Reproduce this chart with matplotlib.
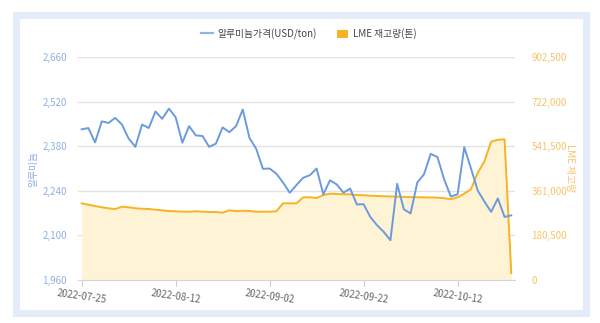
import matplotlib
matplotlib.use("Agg")
import matplotlib.pyplot as plt
from matplotlib.patches import Rectangle, Patch
from matplotlib.lines import Line2D
from matplotlib.ticker import FuncFormatter

plt.rcParams['font.family'] = ['Noto Sans CJK KR', 'DejaVu Sans']

# aluminium price (USD/ton), one value per trading day
price = [2433, 2437, 2392, 2458, 2453, 2469, 2448, 2404, 2378, 2448,
         2437, 2489, 2466, 2498, 2471, 2391, 2443, 2414, 2412, 2378,
         2388, 2439, 2424, 2443, 2495, 2406, 2372, 2309, 2310, 2294,
         2266, 2234, 2258, 2281, 2289, 2310, 2229, 2273, 2260, 2234,
         2247, 2197, 2198, 2158, 2132, 2111, 2085, 2262, 2182, 2169,
         2266, 2292, 2356, 2346, 2276, 2222, 2229, 2377, 2310, 2241,
         2206, 2174, 2216, 2158, 2163]

# LME stock (ton)
stock = [310400, 304700, 299500, 294200, 290200, 287300, 296700, 294200, 290200, 288600,
         287300, 284600, 282000, 279200, 278000, 276500, 276500, 278000, 276500, 275200,
         275200, 272400, 282000, 279200, 280500, 279200, 276500, 276500, 276500, 278000,
         310400, 310400, 310400, 334600, 334600, 331900, 344000, 349300, 348000, 346800,
         346800, 344000, 343000, 341200, 340000, 339000, 338000, 337500, 336500, 335500,
         335000, 334500, 334000, 333500, 331000, 327000, 334600, 349300, 367100, 434000,
         480000, 559700, 567800, 569400, 28000]

tick_labels = ['2022-07-25', '2022-08-12', '2022-09-02', '2022-09-22', '2022-10-12']
tick_every = 14

left_ticks = [1960, 2100, 2240, 2380, 2520, 2660]
right_ticks = [0, 180500, 361000, 541500, 722000, 902500]

blue = '#6b9bdd'
orange = '#f6b322'
fill_col = '#fff3d6'

fig = plt.figure(figsize=(6.0, 3.23), dpi=100)
fig.patch.set_facecolor('white')

W, H = 600, 323
fig.add_artist(Rectangle((13 / W, 1 - 317 / H), 577 / W, 305 / H, transform=fig.transFigure,
                         facecolor='#e3ecf8', edgecolor='none', zorder=-20))
fig.add_artist(Rectangle((20 / W, 1 - 310 / H), 563 / W, 291 / H, transform=fig.transFigure,
                         facecolor='white', edgecolor='none', zorder=-19))

ax2 = fig.add_axes([0.1305, 0.1331, 0.7272, 0.6904])
ax = ax2.twinx()
ax.yaxis.tick_left()
ax.yaxis.set_label_position('left')
ax2.yaxis.tick_right()
ax2.yaxis.set_label_position('right')

x = list(range(len(price)))

# stock area (right axis), drawn under the price line
ax2.fill_between(x, stock, 0, color=fill_col, lw=0, zorder=2)
ax2.plot(x, stock, color=orange, lw=1.4, zorder=3)
ax2.set_ylim(0, 902500)
ax2.set_yticks(right_ticks)
ax2.yaxis.set_major_formatter(FuncFormatter(lambda v, p: f'{int(v):,}'))
ax2.tick_params(axis='y', length=0, labelsize=7, labelcolor='#f7c46a', pad=12)
ax2.grid(axis='y', color='#e2e2e2', lw=1)
ax2.set_axisbelow(True)
ax2.set_ylabel('LME 재고량', color='#f7c46a', fontsize=7, rotation=-90, labelpad=6)

# price line (left axis)
ax.set_zorder(ax2.get_zorder() + 1)
ax.patch.set_visible(False)
ax.plot(x, price, color=blue, lw=1.4, zorder=4)
ax.set_ylim(1960, 2660)
ax.set_yticks(left_ticks)
ax.yaxis.set_major_formatter(FuncFormatter(lambda v, p: f'{int(v):,}'))
ax.tick_params(axis='y', length=0, labelsize=7, labelcolor='#8fb1e3', pad=8)
ax.set_ylabel('알루미늄', color='#8fb1e3', fontsize=7, labelpad=3)

ax2.set_xlim(-0.5, len(price) - 0.5)
ax2.set_xticks([i * tick_every for i in range(len(tick_labels))])
ax2.set_xticklabels(tick_labels, rotation=-8, ha='center', fontsize=7, color='#666666')
ax2.tick_params(axis='x', length=4, color='#cccccc', pad=2)

for a in (ax, ax2):
    for s in ('top', 'left', 'right'):
        a.spines[s].set_visible(False)
    a.spines['bottom'].set_color('#cfd6e0')
ax.spines['bottom'].set_visible(False)

handles = [Line2D([0], [0], color='#93b3e0', lw=1.6),
           Patch(facecolor=orange, edgecolor='none')]
fig.legend(handles, ['알루미늄가격(USD/ton)', 'LME 재고량(톤)'], loc='center',
           bbox_to_anchor=(0.515, 1 - 34 / H), ncol=2, frameon=False, fontsize=7,
           handlelength=1.2, handleheight=0.9, columnspacing=2.0, handletextpad=0.5,
           labelcolor='#444444')

fig.savefig('out.png', dpi=100, facecolor='white')
